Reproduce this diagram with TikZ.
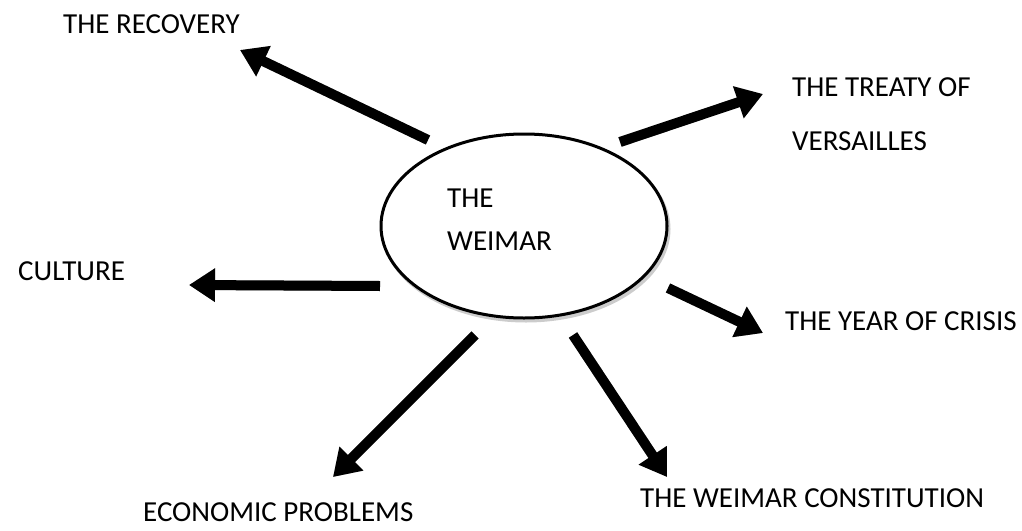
\documentclass[tikz,border=0pt]{standalone}
\usepackage{fontspec}
\setmainfont{Carlito}
\usetikzlibrary{arrows.meta,shapes.geometric}
\begin{document}
\begin{tikzpicture}[x=1pt,y=-1pt,
  lbl/.style={anchor=base west,inner sep=0pt,font=\fontsize{29}{44}\selectfont},
  fat/.style={line width=10pt,-{Triangle[length=26pt,width=32pt]}},
  fatshadow/.style={fat,draw=black!22,shift={(2,3)}},
  hub/.style={ellipse,draw,line width=3pt,fill=white,minimum width=286pt,minimum height=184pt,inner sep=0pt}]
\useasboundingbox (0,0) rectangle (1022,530);

% central ellipse with its soft shadow
\node[hub,draw=black!20,fill=black!20] (ws) at (526,229) {};
\node[hub] (w) at (524,226) {};
\node[lbl] (t1) at (447,207) {THE};
\node[lbl] (t2) at (447,250) {WEIMAR};

% arrow ends
\coordinate (rT) at (428,140); \coordinate (rH) at (240,50);
\coordinate (tT) at (620,142); \coordinate (tH) at (763,94);
\coordinate (cT) at (380,286); \coordinate (cH) at (189,285);
\coordinate (yT) at (668,288); \coordinate (yH) at (763,333);
\coordinate (eT) at (475,335); \coordinate (eH) at (333,477);
\coordinate (kT) at (573,335); \coordinate (kH) at (667,477);

% shadows first, then the arrows
\foreach \a in {r,t,c,y,e,k}{
  \draw[fatshadow] (\a T) -- (\a H);
}
\foreach \a in {r,t,c,y,e,k}{
  \draw[fat] (\a T) -- (\a H);
}

% labels
\node[lbl] (recovery) at (63,33) {THE RECOVERY};
\node[lbl] (treaty1) at (792,96) {THE TREATY OF};
\node[lbl] (treaty2) at (792,150) {VERSAILLES};
\node[lbl] (culture) at (18,280) {CULTURE};
\node[lbl] (crisis) at (785,330) {THE YEAR OF CRISIS};
\node[lbl] (econ) at (143,521) {ECONOMIC PROBLEMS};
\node[lbl] (const) at (640,507) {THE WEIMAR CONSTITUTION};
\end{tikzpicture}
\end{document}
